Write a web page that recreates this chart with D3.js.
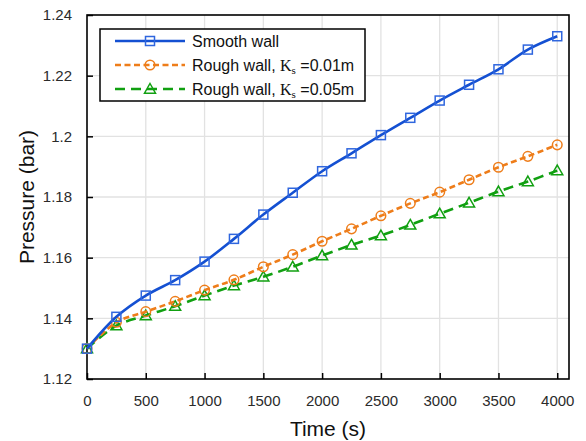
<!DOCTYPE html>
<html>
<head>
<meta charset="utf-8">
<script src="https://cdn.jsdelivr.net/npm/d3@7"></script>
<style>
  html, body { margin: 0; padding: 0; background: #fff; }
  svg { display: block; }
  text { font-family: "Liberation Sans", Arial, sans-serif; }
</style>
</head>
<body>
<svg id="chart" width="586" height="441"></svg>
<script>
// Time samples (s)
const times = [0, 250, 500, 750, 1000, 1250, 1500, 1750, 2000, 2250, 2500, 2750, 3000, 3250, 3500, 3750, 4000];

// Pressure (bar) for each wall condition
const smoothWall = [1.130, 1.1405, 1.1475, 1.1526, 1.1587, 1.1662, 1.1742, 1.1814, 1.1885, 1.1944, 1.2004, 1.2061, 1.2118, 1.2170, 1.2221, 1.2286, 1.2330];
const roughWall001 = [1.130, 1.1387, 1.1422, 1.1456, 1.1493, 1.1527, 1.1570, 1.1610, 1.1654, 1.1695, 1.1738, 1.1779, 1.1816, 1.1857, 1.1898, 1.1934, 1.1972];
const roughWall005 = [1.130, 1.1376, 1.1409, 1.1440, 1.1475, 1.1508, 1.1537, 1.1570, 1.1607, 1.1642, 1.1673, 1.1708, 1.1745, 1.1781, 1.1818, 1.1851, 1.1887];

// Axis ticks
const xTicks = [0, 500, 1000, 1500, 2000, 2500, 3000, 3500, 4000];
const yTicks = [1.12, 1.14, 1.16, 1.18, 1.20, 1.22, 1.24];
const yTickLabels = ["1.12", "1.14", "1.16", "1.18", "1.2", "1.22", "1.24"];

const seriesList = [
  { name: "Smooth wall", ks: null, values: smoothWall, color: "#1450d2", marker: "square", dash: null },
  { name: "Rough wall, ", ks: "0.01m", values: roughWall001, color: "#ee7d1a", marker: "circle", dash: "6,3.5" },
  { name: "Rough wall, ", ks: "0.05m", values: roughWall005, color: "#11a011", marker: "triangle", dash: "10,6" }
];

const svg = d3.select("#chart");
const margin = { left: 87, right: 17, top: 15, bottom: 62 };
const W = 586, H = 441;

const x = d3.scaleLinear().domain([0, 4100]).range([margin.left, W - margin.right]);
const y = d3.scaleLinear().domain([1.12, 1.24]).range([H - margin.bottom, margin.top]);

// Gridlines
const grid = svg.append("g");
grid.selectAll("line.v").data(xTicks.filter(d => d > 0)).enter().append("line")
  .attr("x1", d => x(d)).attr("x2", d => x(d))
  .attr("y1", y(1.12)).attr("y2", y(1.24))
  .attr("stroke", "#e2e2e2").attr("stroke-width", 1.3);
grid.selectAll("line.h").data(yTicks.filter(d => d > 1.12 && d < 1.24)).enter().append("line")
  .attr("x1", x(0)).attr("x2", x(4100))
  .attr("y1", d => y(d)).attr("y2", d => y(d))
  .attr("stroke", "#e2e2e2").attr("stroke-width", 1.3);

// Axes with inward ticks
const xAxis = svg.append("g").attr("transform", `translate(0,${y(1.12)})`)
  .call(d3.axisBottom(x).tickValues(xTicks).tickFormat(d3.format("d")).tickSizeInner(-6).tickSizeOuter(0).tickPadding(16));
const yAxis = svg.append("g").attr("transform", `translate(${x(0)},0)`)
  .call(d3.axisLeft(y).tickValues(yTicks).tickFormat((d, i) => yTickLabels[i]).tickSizeInner(-6).tickSizeOuter(0).tickPadding(15));
[xAxis, yAxis].forEach(a => {
  a.select(".domain").remove();
  a.selectAll(".tick line").attr("stroke", "#000").attr("stroke-width", 1.5);
  a.selectAll(".tick text").attr("font-size", 15).attr("fill", "#2b2b2b")
    .attr("font-family", "'Liberation Sans', Arial, sans-serif");
});

// Plot frame
svg.append("rect")
  .attr("x", x(0)).attr("y", y(1.24))
  .attr("width", x(4100) - x(0)).attr("height", y(1.12) - y(1.24))
  .attr("fill", "none").attr("stroke", "#000").attr("stroke-width", 1.6);

// Axis titles
svg.append("text")
  .attr("x", (x(0) + x(4100)) / 2).attr("y", 436)
  .attr("text-anchor", "middle").attr("font-size", 21).attr("fill", "#111")
  .text("Time (s)");
svg.append("text")
  .attr("transform", `translate(34,${(y(1.12) + y(1.24)) / 2}) rotate(-90)`)
  .attr("text-anchor", "middle").attr("font-size", 21).attr("fill", "#111")
  .text("Pressure (bar)");

// Marker drawing
function drawMarker(g, type, color, cx, cy) {
  if (type === "square") {
    g.append("rect").attr("x", cx - 4.5).attr("y", cy - 4.5).attr("width", 9).attr("height", 9)
      .attr("fill", "none").attr("stroke", "#2f66de").attr("stroke-width", 1.5);
  } else if (type === "circle") {
    g.append("circle").attr("cx", cx).attr("cy", cy).attr("r", 4.8)
      .attr("fill", "none").attr("stroke", color).attr("stroke-width", 1.5);
  } else {
    const s = 5.5;
    g.append("path")
      .attr("d", `M${cx},${cy - s}L${cx + s},${cy + s * 0.75}L${cx - s},${cy + s * 0.75}Z`)
      .attr("fill", "none").attr("stroke", color).attr("stroke-width", 1.5);
  }
}

const line = d3.line().x(d => x(d[0])).y(d => y(d[1])).curve(d3.curveCatmullRom.alpha(0.5));

// Series lines and markers (draw bottom series first)
seriesList.slice().reverse().forEach(s => {
  const pts = times.map((t, i) => [t, s.values[i]]);
  const g = svg.append("g");
  g.append("path").datum(pts).attr("d", line)
    .attr("fill", "none").attr("stroke", s.color).attr("stroke-width", 2.6)
    .attr("stroke-dasharray", s.dash);
  pts.forEach(p => drawMarker(g, s.marker, s.color, x(p[0]), y(p[1])));
});

// Legend
const leg = svg.append("g");
leg.append("rect").attr("x", 100).attr("y", 29).attr("width", 265).attr("height", 72)
  .attr("fill", "#fff").attr("stroke", "#000").attr("stroke-width", 1.5);
seriesList.forEach((s, i) => {
  const ly = 41 + i * 24;
  leg.append("line").attr("x1", 115).attr("x2", 185).attr("y1", ly).attr("y2", ly)
    .attr("stroke", s.color).attr("stroke-width", 2.6).attr("stroke-dasharray", s.dash);
  drawMarker(leg, s.marker, s.color, 150, ly);
  const t = leg.append("text").attr("x", 192).attr("y", ly + 5.5).attr("font-size", 16).attr("fill", "#111");
  t.append("tspan").text(s.name);
  if (s.ks) {
    t.append("tspan").attr("font-family", "'Liberation Serif', 'Times New Roman', serif").text("K");
    t.append("tspan").attr("font-family", "'Liberation Serif', 'Times New Roman', serif")
      .attr("font-size", 11).attr("dy", 3).text("s");
    t.append("tspan").attr("dy", -3).text(" =" + s.ks);
  }
});
</script>
</body>
</html>
